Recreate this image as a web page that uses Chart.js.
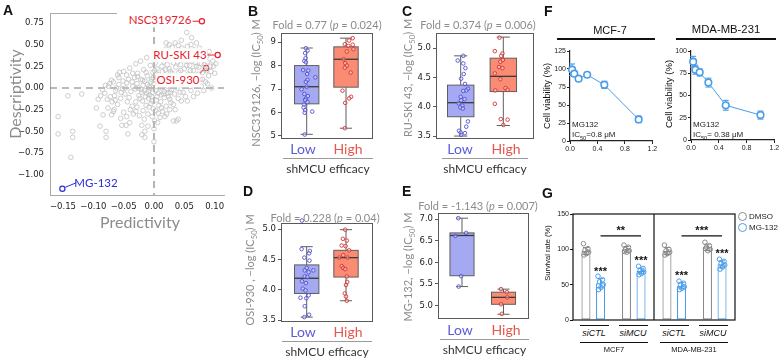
<!DOCTYPE html>
<html>
<head>
<meta charset="utf-8">
<script src="https://cdn.jsdelivr.net/npm/chart.js@4.4.1/dist/chart.umd.min.js"></script>
<style>
  body { margin: 0; background: #fff; }
  #fig { position: relative; width: 783px; height: 358px; overflow: hidden; font-family: Lato, 'Open Sans', sans-serif; }
  .t { position: absolute; white-space: nowrap; line-height: 1; }
  .c { transform: translate(-50%, -50%); }
  .r { transform: translate(-50%, -50%) rotate(-90deg); }
  .ar { font-family: Arial, 'Liberation Sans', sans-serif; }
  .let { font: bold 14px Arial, 'Liberation Sans', sans-serif; color: #111; }
  .gt { color: #8c8c8c; }
  .lab { background: #fff; padding: 1px 1px; }
  .hl { position: absolute; height: 0; }
  sub { font-size: 70%; line-height: 0; }
</style>
</head>
<body>
<div id="fig"></div>
<script>
// ── Panel A: predictivity vs descriptivity ───────────────────────────────────
const A_XTICKS = [-0.15, -0.10, -0.05, 0.00, 0.05, 0.10];
const A_YTICKS = [-1.00, -0.75, -0.50, -0.25, 0.00, 0.25, 0.50, 0.75];
const A_CLOUD = [
  [-0.028,0.05],[-0.021,-0.02],[-0.015,0.08],[-0.012,-0.06],[-0.008,0.02],[-0.004,-0.10],[0.000,0.05],[0.003,-0.03],
  [0.006,0.11],[0.009,0.01],[0.012,-0.08],[0.015,0.07],[0.018,0.15],[0.021,-0.01],[0.024,0.09],[0.027,0.19],
  [0.030,0.04],[0.033,0.13],[0.036,0.24],[0.039,0.08],[-0.025,-0.09],[-0.019,-0.15],[-0.013,-0.20],[-0.009,-0.12],
  [-0.005,-0.18],[-0.001,-0.24],[0.004,-0.14],[0.008,-0.20],[0.011,-0.16],[0.014,-0.27],[0.017,-0.11],[0.020,-0.21],
  [0.023,-0.06],[0.026,-0.13],[0.029,-0.02],[-0.032,0.12],[-0.027,0.17],[-0.022,0.10],[-0.017,0.21],[-0.011,0.14],
  [-0.006,0.26],[-0.002,0.18],[0.002,0.29],[0.005,0.22],[0.010,0.33],[0.013,0.25],[0.016,0.30],[0.019,0.37],
  [0.022,0.27],[0.025,0.34],[-0.038,-0.04],[-0.035,0.02],[-0.041,-0.11],[-0.045,0.06],[-0.048,-0.07],[-0.052,-0.01],
  [-0.044,-0.16],[-0.036,-0.21],[-0.030,-0.27],[-0.024,-0.32],[-0.016,-0.36],[-0.010,-0.30],[-0.003,-0.33],[0.001,-0.38],
  [0.007,-0.29],[0.041,0.18],[0.044,0.27],[0.047,0.12],[0.050,0.22],[0.053,0.31],[0.056,0.16],[0.059,0.26],
  [0.062,0.36],[0.065,0.20],[0.068,0.29],[0.071,0.41],[0.074,0.24],[0.077,0.33],[0.080,0.18],[0.083,0.27],
  [0.087,0.37],[0.090,0.14],[0.093,0.25],[0.032,0.29],[0.035,0.36],[0.038,0.43],[0.028,0.41],[0.042,0.38],
  [0.046,0.46],[0.050,0.40],[0.055,0.48],[0.058,0.43],[0.054,0.64],[0.061,0.50],[0.066,0.44],[0.070,0.52],
  [0.075,0.46],[0.034,-0.07],[0.038,0.00],[0.043,-0.05],[0.047,0.03],[0.052,-0.10],[0.057,0.05],[0.061,-0.03],
  [0.066,0.08],[0.072,-0.06],[0.078,0.02],[0.085,0.07],[0.095,0.00],[0.045,-0.15],[0.032,-0.19],[0.037,-0.38],
  [0.040,-0.36],[-0.058,0.04],[-0.063,-0.03],[-0.067,0.07],[-0.072,-0.10],[-0.075,0.02],[-0.081,-0.06],[-0.055,-0.12],
  [-0.060,-0.19],[-0.066,-0.25],[-0.070,-0.31],[-0.050,-0.28],[-0.045,-0.33],[-0.040,-0.40],[-0.055,-0.35],[-0.035,0.17],
  [-0.040,0.23],[-0.045,0.15],[-0.050,0.19],[-0.030,0.28],[-0.022,0.31],[-0.012,0.35],[-0.058,0.12],[-0.070,0.09],
  [-0.060,0.15],[-0.005,0.07],[-0.018,0.03],[0.007,-0.06],[0.020,0.05],[-0.009,-0.04],[0.013,0.00],[-0.001,0.12],
  [0.017,-0.04],[-0.014,-0.10],[0.004,0.16],[-0.026,0.00],[0.028,0.14],[-0.020,-0.05],[0.010,0.08],[-0.007,0.00],
  [0.024,-0.10],[-0.030,-0.16],[0.019,0.21],[-0.003,-0.15],[0.031,0.09],[-0.010,-0.44],[0.000,-0.47],[-0.015,-0.50],
  [0.006,-0.40],[0.018,-0.33],[-0.020,-0.43],[0.010,-0.34],[0.026,-0.25],[0.080,0.10],[0.086,0.20],[0.097,0.31],
  [0.068,0.12],[0.073,0.16],[0.063,0.12],[0.049,0.08],[0.100,0.17],[-0.142,-0.09],[-0.119,-0.07],[-0.158,-0.33],
  [-0.158,-0.53],[-0.134,-0.50],[-0.134,-0.57],[-0.137,-0.80],[-0.092,-0.13],[-0.095,-0.23],[-0.089,-0.44],[-0.079,-0.50],
  [-0.079,-0.57],[-0.076,-0.23],[-0.084,-0.31],[-0.043,-0.53],[-0.020,-0.54],[-0.015,-0.57],[0.000,-0.62],[-0.053,-0.43],
  [-0.046,-0.43],[-0.067,-0.27],[-0.064,-0.14],[0.032,-0.38],
  [-0.036,0.07],[-0.031,-0.01],[-0.027,0.13],[-0.023,-0.12],[-0.019,0.09],[-0.016,-0.03],[-0.013,0.18],[-0.011,0.04],
  [-0.007,-0.08],[-0.004,0.10],[-0.002,-0.05],[0.001,0.20],[0.003,0.08],[0.005,-0.10],[0.008,0.15],[0.011,0.03],
  [0.014,0.19],[0.016,-0.07],[0.019,0.11],[0.022,0.02],[0.025,0.22],[0.027,-0.05],[0.030,0.17],[0.033,0.03],
  [0.036,0.12],[0.039,0.30],[0.041,0.05],[0.044,0.20],[0.048,0.33],[0.051,0.10],[0.054,0.26],[0.057,0.38],
  [0.060,0.20],[0.063,0.31],[0.067,0.38],[0.070,0.25],[0.074,0.35],[0.078,0.28],[0.081,0.40],[0.084,0.22],
  [0.088,0.30],[0.091,0.42],[0.094,0.19],[0.098,0.25],[0.102,0.28],[-0.042,0.10],[-0.047,0.00],[-0.051,0.08],
  [-0.054,-0.05],[-0.057,0.18],[-0.062,0.00],[-0.065,-0.09],[-0.069,-0.16],[-0.073,0.05],[-0.077,-0.13],[-0.080,0.03],
  [-0.085,-0.02],[-0.088,-0.09],[-0.039,-0.25],[-0.034,-0.30],[-0.028,-0.22],[-0.018,-0.26],[-0.008,-0.22],[0.003,-0.26],
  [0.012,-0.23],[0.021,-0.30],[0.028,-0.17],[0.035,-0.25],[0.040,-0.12],[0.048,-0.05],[0.055,-0.15],[0.060,0.02],
  [0.065,-0.10],[0.070,0.04],[0.076,0.10],[0.082,-0.03],[0.088,0.05],[0.010,0.40],[0.015,0.42],[0.020,0.45],
  [0.025,0.50],[0.030,0.47],[0.035,0.52],[0.040,0.49],[0.045,0.55],[0.062,0.58],[0.020,0.52]
];
const A_HIT_NAMES = ['NSC319726', 'RU-SKI 43', 'OSI-930'];
const A_HIT_X = [0.079, 0.105, 0.086];
const A_HIT_Y = [0.77, 0.38, 0.23];
const A_MISS_NAME = 'MG-132';
const A_MISS = [-0.151, -1.162];

// ── Panels B–E: boxplots [whisker lo, q1, median, q3, whisker hi] ───────────
const BOX_GROUPS = ['Low', 'High'];
const B_LOW  = [5.07, 6.37, 7.10, 8.00, 8.75];
const B_HIGH = [5.33, 7.08, 8.27, 8.80, 9.17];
const B_LOW_PTS = [[-0.02,8.74],[0.02,8.64],[-0.04,8.53],[-0.03,8.31],[-0.06,8.2],[-0.02,8.14],[-0.09,7.81],[0.04,7.79],
  [0.01,7.64],[0.22,7.5],[0.02,7.39],[-0.02,7.31],[0,7.1],[-0.13,6.99],[-0.06,6.79],[0.03,6.7],[-0.02,6.59],[-0.04,6.53],
  [0.02,6.44],[-0.07,6.34],[-0.08,6.21],[-0.04,6.1],[0.14,6.04],[-0.05,5.99],[-0.05,5.06]];
const B_HIGH_PTS = [[0.17,9.17],[0.08,9.07],[-0.03,8.91],[0.17,8.89],[0.06,8.84],[0.19,8.7],[0.02,8.6],[-0.06,8.27],
  [-0.02,8.1],[0.02,8.0],[-0.03,7.91],[0.12,7.7],[-0.09,6.93],[0.13,6.67],[0.08,6.6],[-0.02,6.41],[-0.03,5.33]];
const B_YTICKS = [5, 6, 7, 8, 9];

const C_LOW  = [3.50, 3.83, 4.07, 4.37, 4.87];
const C_HIGH = [3.68, 4.26, 4.52, 4.83, 5.19];
const C_LOW_PTS = [[0.06,4.87],[-0.07,4.79],[0.06,4.74],[0.11,4.66],[0.07,4.56],[0.01,4.48],[0.1,4.39],[0.17,4.31],
  [0.13,4.28],[0.06,4.27],[0,4.17],[0.09,4.13],[0.01,4.11],[-0.05,4.06],[0.04,4.02],[-0.01,3.99],[0.05,3.97],[0.17,3.75],
  [0.13,3.66],[-0.04,3.59],[0,3.56],[0.1,3.55],[0.01,3.52]];
const C_HIGH_PTS = [[-0.09,5.18],[-0.2,4.95],[-0.02,4.91],[-0.05,4.87],[-0.01,4.8],[-0.07,4.77],[-0.1,4.68],[-0.02,4.66],
  [-0.2,4.57],[-0.07,4.47],[0.05,4.32],[0.1,4.29],[-0.19,4.28],[-0.2,4.05],[-0.06,3.79],[0.1,3.78],[0,3.69]];
const C_YTICKS = [3.5, 4.0, 4.5, 5.0];

const D_LOW  = [3.55, 3.94, 4.19, 4.41, 4.71];
const D_HIGH = [3.82, 4.21, 4.53, 4.65, 4.99];
const D_LOW_PTS = [[-0.12,5.14],[-0.13,4.67],[0.08,4.64],[0.06,4.6],[-0.06,4.53],[0.07,4.48],[0,4.36],[-0.05,4.32],
  [0.17,4.32],[0.05,4.29],[-0.05,4.22],[0.02,4.21],[-0.12,4.14],[-0.02,4.11],[-0.1,4.02],[-0.03,3.99],[-0.16,3.87],
  [0.05,3.91],[-0.01,3.86],[-0.05,3.73],[0.06,3.59],[-0.06,3.55]];
const D_HIGH_PTS = [[-0.02,4.99],[-0.08,4.84],[0.02,4.81],[-0.11,4.73],[-0.01,4.72],[0.08,4.65],[-0.07,4.57],[-0.17,4.53],
  [0.04,4.53],[-0.11,4.39],[-0.07,4.36],[-0.02,4.34],[0.02,4.22],[0.03,4.13],[0,4.08],[-0.03,3.94],[0,3.89],[0.02,3.82]];
const D_YTICKS = [3.5, 4.0, 4.5, 5.0];

const E_LOW  = [5.44, 5.69, 6.62, 6.68, 7.02];
const E_HIGH = [4.80, 5.03, 5.19, 5.31, 5.38];
const E_LOW_PTS = [[-0.09,7.02],[0.1,6.68],[-0.16,6.61],[-0.02,5.68],[-0.08,5.44]];
const E_HIGH_PTS = [[-0.06,5.38],[0.08,5.31],[0.09,5.19],[-0.06,5.03],[-0.04,4.81]];
const E_YTICKS = [5.0, 5.5, 6.0, 6.5, 7.0];

// ── Panel F: MG132 dose response ─────────────────────────────────────────────
const F_CONC = [0.03125, 0.0625, 0.125, 0.25, 0.5, 1.0];
const F_MCF = [99, 93.5, 86.5, 92, 78, 30];
const F_MCF_ERR = [8, 3, 2.5, 2.5, 5, 4.5];
const F_MDA = [88, 79, 76, 64.5, 39, 28];
const F_MDA_ERR = [6, 5, 4, 5, 5.5, 4.5];
const F_XTICKS = [0, 0.4, 0.8, 1.2];

// ── Panel G: survival rate ───────────────────────────────────────────────────
const G_GROUPS = ['siCTL', 'siMCU', 'siCTL', 'siMCU'];
const G_DMSO = [97.6, 100, 97.6, 102.8];
const G_MG = [52, 69.3, 48.6, 78.8];
const G_DMSO_SD = [5, 4, 5, 4.5];
const G_MG_SD = [6.5, 4, 4.5, 5];
const G_DMSO_REPS = [[108,101,99,96,94,92],[106,103,100,98,96,97],[106,100,98,96,94,92],[110,105,103,100,98,101]];
const G_MG_REPS = [[62,57,54,50,46,43],[76,73,70,68,66,64],[55,52,50,47,45,43],[86,83,80,78,75,72]];
const G_STARS = ['***', '***', '***', '***'];
const G_BRACKETS = [[0, 1], [2, 3]];
const G_BRACKET_Y = [119, 119];
const G_BRACKET_TXT = ['**', '***'];
const G_YTICKS = [0, 50, 100, 150];

// ── helpers ──────────────────────────────────────────────────────────────────
const fig = document.getElementById('fig');
const BLUE = '#4a9de8';

function mount(box) {
  const c = document.createElement('canvas');
  c.width = box.w; c.height = box.h;
  c.style.cssText = `position:absolute;left:${box.x}px;top:${box.y}px;width:${box.w}px;height:${box.h}px`;
  fig.appendChild(c);
  return c;
}
function fit(box, area) {
  return {
    padding: { left: 0, top: area.t - box.y, right: box.x + box.w - area.r, bottom: 0 },
    yw: area.l - box.x,
    xh: box.y + box.h - area.b,
  };
}
const sizeAxis = (prop, v) => ax => {
  ax[prop] = v;
  ax.paddingLeft = ax.paddingRight = ax.paddingTop = ax.paddingBottom = 0;
};
const setTicks = vals => ax => { ax.ticks = vals.map(v => ({ value: v })); };
function text(html, x, y, cls, style = '') {
  const d = document.createElement('div');
  d.className = 't ' + cls;
  d.style.cssText = `left:${x}px;top:${y}px;${style}`;
  d.innerHTML = html;
  fig.appendChild(d);
}
function hline(x1, x2, y, color = '#888', w = 1) {
  const d = document.createElement('div');
  d.className = 'hl';
  d.style.cssText = `left:${x1}px;top:${y}px;width:${x2 - x1}px;border-top:${w}px solid ${color}`;
  fig.appendChild(d);
}
function seg(ctx, x1, y1, x2, y2) { ctx.beginPath(); ctx.moveTo(x1, y1); ctx.lineTo(x2, y2); ctx.stroke(); }
const fmtMinus = (v, d) => (v < 0 ? '\u2212' : '') + Math.abs(v).toFixed(d);

// ── A ────────────────────────────────────────────────────────────────────────
(() => {
  const box = { x: 0, y: 0, w: 240, h: 216 };
  const f = fit(box, { l: 50, t: 13, r: 224, b: 195 });
  const aPlugin = {
    id: 'aDeco',
    beforeDatasetsDraw(chart) {
      const { ctx, chartArea: a, scales: { x, y } } = chart;
      ctx.save();
      ctx.strokeStyle = '#777'; ctx.lineWidth = 1.1; ctx.setLineDash([7, 5]);
      seg(ctx, x.getPixelForValue(0), a.top, x.getPixelForValue(0), a.bottom);
      seg(ctx, a.left, y.getPixelForValue(0), a.right, y.getPixelForValue(0));
      ctx.setLineDash([]);
      ctx.strokeStyle = '#aaa'; ctx.lineWidth = 1;
      seg(ctx, a.left, a.top + 0.5, x.getPixelForValue(-0.061), a.top + 0.5);
      ctx.restore();
    },
    afterDatasetsDraw(chart) {
      const { ctx, scales: { x, y } } = chart;
      ctx.save();
      // connectors from labels to highlighted compounds
      const offs = [[-14, 0], [-16, 0], [-10, 10]];
      ctx.strokeStyle = '#e8202a'; ctx.lineWidth = 1;
      A_HIT_X.forEach((v, i) => {
        const px = x.getPixelForValue(v), py = y.getPixelForValue(A_HIT_Y[i]);
        seg(ctx, px - 3, py + (offs[i][1] ? 2 : 0), px + offs[i][0], py + offs[i][1]);
      });
      ctx.strokeStyle = '#2b2bdc';
      const mx = x.getPixelForValue(A_MISS[0]), my = y.getPixelForValue(A_MISS[1]);
      seg(ctx, mx + 3, my - 1.5, mx + 14, my - 6);
      ctx.restore();
    },
  };
  new Chart(mount(box), {
    type: 'scatter',
    data: {
      datasets: [
        { data: A_CLOUD.map(([x, y]) => ({ x, y })), pointRadius: 2.3, borderWidth: 0.8,
          borderColor: '#c0c0c0', backgroundColor: 'rgba(255,255,255,0)' },
        { data: A_HIT_X.map((x, i) => ({ x, y: A_HIT_Y[i] })), pointRadius: 2.6, borderWidth: 1.2,
          borderColor: '#e8202a', backgroundColor: '#fff' },
        { data: [{ x: A_MISS[0], y: A_MISS[1] }], pointRadius: 2.6, borderWidth: 1.2,
          borderColor: '#2b2bdc', backgroundColor: '#fff' },
      ],
    },
    options: {
      responsive: false, animation: false, devicePixelRatio: 1,
      layout: { padding: f.padding },
      plugins: { legend: { display: false }, tooltip: { enabled: false } },
      scales: {
        x: { min: -0.1714, max: 0.1154, afterBuildTicks: setTicks(A_XTICKS), afterFit: sizeAxis('height', f.xh),
             grid: { display: false, drawTicks: false }, border: { color: '#aaa' },
             ticks: { padding: 7, color: '#222', font: { family: 'DejaVu Sans', size: 8.5 }, callback: v => fmtMinus(v, 2) } },
        y: { min: -1.2346, max: 0.865, afterBuildTicks: setTicks(A_YTICKS), afterFit: sizeAxis('width', f.yw),
             grid: { display: false, drawTicks: false }, border: { color: '#aaa' },
             ticks: { padding: 6, color: '#222', font: { family: 'DejaVu Sans', size: 8.5 }, callback: v => fmtMinus(v, 2) } },
      },
    },
    plugins: [aPlugin],
  });
  text('Descriptivity', 15, 94, 'r gt', 'font-size:16px');
  text('Predictivity', 140, 222, 'c gt', 'font-size:16px');
  text(A_HIT_NAMES[0], 160, 20, 'c lab', 'color:#e8202a;font-size:11.5px');
  text(A_HIT_NAMES[1], 180, 55, 'c lab', 'color:#e8202a;font-size:11.5px');
  text(A_HIT_NAMES[2], 178, 80, 'c lab', 'color:#e8202a;font-size:11.5px');
  text(A_MISS_NAME, 96, 183, 'c', 'color:#2b2bdc;font-size:11.5px');
  text('A', 3, 1.5, 'let');
})();

// ── B–E ─────────────────────────────────────────────────────────────────────
function boxPanel(box, area, xr, yr, yticks, dec, low, high, lowPts, highPts, half) {
  const f = fit(box, area);
  const stats = [low, high];
  const fills = ['#a4a9f2', '#fa8c74'];
  const boxPlugin = {
    id: 'boxes',
    beforeDatasetsDraw(chart) {
      const { ctx, scales: { x, y } } = chart;
      ctx.save();
      stats.forEach((s, i) => {
        const [lo, q1, md, q3, hi] = s.map(v => y.getPixelForValue(v));
        const xl = x.getPixelForValue(i - half), xr2 = x.getPixelForValue(i + half), xc = x.getPixelForValue(i);
        const cl = x.getPixelForValue(i - half / 2), cr = x.getPixelForValue(i + half / 2);
        ctx.strokeStyle = '#5f5f5f'; ctx.lineWidth = 1;
        seg(ctx, xc, hi, xc, q3); seg(ctx, xc, q1, xc, lo);
        seg(ctx, cl, hi, cr, hi); seg(ctx, cl, lo, cr, lo);
        ctx.fillStyle = fills[i];
        ctx.fillRect(xl, q3, xr2 - xl, q1 - q3);
        ctx.strokeRect(xl, q3, xr2 - xl, q1 - q3);
        ctx.strokeStyle = '#3a3a3a'; ctx.lineWidth = 1.3;
        seg(ctx, xl, md, xr2, md);
      });
      ctx.restore();
    },
    afterDatasetsDraw(chart) {
      const { ctx, chartArea: a } = chart;
      ctx.save();
      ctx.strokeStyle = '#5a5a5a'; ctx.lineWidth = 1;
      ctx.strokeRect(a.left + 0.5, a.top + 0.5, a.right - a.left - 1, a.bottom - a.top - 1);
      ctx.restore();
    },
  };
  new Chart(mount(box), {
    type: 'scatter',
    data: {
      datasets: [
        { label: BOX_GROUPS[0], data: lowPts.map(([j, v]) => ({ x: 0 + j, y: v })), pointRadius: 1.8, borderWidth: 0.9,
          borderColor: '#5050d0', backgroundColor: 'rgba(255,255,255,0.35)', clip: false },
        { label: BOX_GROUPS[1], data: highPts.map(([j, v]) => ({ x: 1 + j, y: v })), pointRadius: 1.8, borderWidth: 0.9,
          borderColor: '#d63333', backgroundColor: 'rgba(255,255,255,0.35)', clip: false },
      ],
    },
    options: {
      responsive: false, animation: false, devicePixelRatio: 1,
      layout: { padding: f.padding },
      plugins: { legend: { display: false }, tooltip: { enabled: false } },
      scales: {
        x: { min: xr[0], max: xr[1], afterFit: sizeAxis('height', f.xh),
             grid: { display: false, drawTicks: false }, border: { display: false }, ticks: { display: false } },
        y: { min: yr[0], max: yr[1], afterBuildTicks: setTicks(yticks), afterFit: sizeAxis('width', f.yw),
             grid: { drawOnChartArea: false, tickLength: 3, color: '#5a5a5a' }, border: { display: false },
             ticks: { padding: 2, color: '#222', font: { family: 'DejaVu Sans', size: 8.5 }, callback: v => v.toFixed(dec) } },
      },
    },
    plugins: [boxPlugin],
  });
}

boxPanel({ x: 250, y: 0, w: 128, h: 150 }, { l: 281, t: 33, r: 373, b: 139 }, [-0.654, 1.687], [4.87, 9.39],
  B_YTICKS, 0, B_LOW, B_HIGH, B_LOW_PTS, B_HIGH_PTS, 0.31);
boxPanel({ x: 405, y: 0, w: 135, h: 150 }, { l: 436, t: 33, r: 534, b: 139 }, [-0.58, 1.72], [3.45, 5.26],
  C_YTICKS, 1, C_LOW, C_HIGH, C_LOW_PTS, C_HIGH_PTS, 0.31);
boxPanel({ x: 250, y: 200, w: 128, h: 130 }, { l: 281, t: 223, r: 373, b: 322 }, [-0.654, 1.687], [3.47, 5.10],
  D_YTICKS, 1, D_LOW, D_HIGH, D_LOW_PTS, D_HIGH_PTS, 0.31);
boxPanel({ x: 408, y: 200, w: 128, h: 130 }, { l: 438, t: 213, r: 529, b: 319 }, [-0.578, 1.614], [4.69, 7.14],
  E_YTICKS, 1, E_LOW, E_HIGH, E_LOW_PTS, E_HIGH_PTS, 0.29);

function boxTexts(cx, top, ycx, ycy, ytitle, fold, lowX, highX, lblY, lineX1, lineX2) {
  text(fold, cx, top, 'c gt', 'font-size:11px');
  text(ytitle, ycx, ycy, 'r gt', 'font-size:11px');
  text(BOX_GROUPS[0], lowX, lblY, 'c', 'color:#5b5bd9;font-size:14px');
  text(BOX_GROUPS[1], highX, lblY, 'c', 'color:#e8554d;font-size:14px');
  hline(lineX1, lineX2, lblY + 9, '#9a9a9a', 1);
  text('shMCU efficacy', (lineX1 + lineX2) / 2, lblY + 20, 'c', 'color:#333;font-size:12px');
}
boxTexts(327, 24, 255, 83, 'NSC319126, \u2212log (IC<sub>50</sub>) M', 'Fold = 0.77 (<i>p</i> = 0.024)', 303, 348, 149, 283, 373);
boxTexts(478, 24, 407, 78, 'RU-SKI 43, \u2212log (IC<sub>50</sub>) M', 'Fold = 0.374 (<i>p</i> = 0.006)', 460, 506, 149, 442, 528);
boxTexts(325, 216.5, 249, 270, 'OSI-930 , \u2212log (IC<sub>50</sub>) M', 'Fold = 0.228 (<i>p</i> = 0.04)', 303, 348, 331.5, 282, 372);
boxTexts(478, 204.5, 407, 267, 'MG-132, \u2212log (IC<sub>50</sub>) M', 'Fold = -1.143 (<i>p</i> = 0.007)', 460, 506, 330, 440, 529);
text('B', 248, 3.2, 'let'); text('C', 402, 3.2, 'let');
text('D', 243, 183.2, 'let'); text('E', 402, 183.2, 'let');

// ── F ────────────────────────────────────────────────────────────────────────
function dosePanel(box, area, vals, errs, ymax) {
  const f = fit(box, area);
  const errPlugin = {
    id: 'errbars',
    beforeDatasetsDraw(chart) {
      const { ctx, scales: { x, y } } = chart;
      ctx.save();
      ctx.strokeStyle = BLUE; ctx.lineWidth = 1.1;
      F_CONC.forEach((c, i) => {
        const px = x.getPixelForValue(c);
        const top = y.getPixelForValue(vals[i] + errs[i]), bot = y.getPixelForValue(vals[i] - errs[i]);
        seg(ctx, px, top, px, bot); seg(ctx, px - 3, top, px + 3, top); seg(ctx, px - 3, bot, px + 3, bot);
      });
      ctx.restore();
    },
  };
  const axisBase = {
    grid: { drawOnChartArea: false, tickLength: 3, color: '#222', lineWidth: 1 },
    border: { color: '#222', width: 1.2 },
  };
  new Chart(mount(box), {
    type: 'scatter',
    data: {
      datasets: [{ data: F_CONC.map((c, i) => ({ x: c, y: vals[i] })), showLine: true, borderColor: BLUE,
        borderWidth: 1, pointRadius: 3.3, pointBorderWidth: 1.6, pointBorderColor: BLUE,
        pointBackgroundColor: '#fff', clip: false }],
    },
    options: {
      responsive: false, animation: false, devicePixelRatio: 1,
      layout: { padding: f.padding },
      plugins: { legend: { display: false }, tooltip: { enabled: false } },
      scales: {
        x: { ...axisBase, min: 0, max: 1.2, afterBuildTicks: setTicks(F_XTICKS), afterFit: sizeAxis('height', f.xh),
             ticks: { padding: 1, color: '#222', font: { family: 'Arial', size: 7 }, callback: v => v.toFixed(1) } },
        y: { ...axisBase, min: 0, max: ymax, afterFit: sizeAxis('width', f.yw),
             ticks: { stepSize: 25, padding: 1, color: '#222', font: { family: 'Arial', size: 7 } } },
      },
    },
    plugins: [errPlugin],
  });
}
dosePanel({ x: 552, y: 44, w: 106, h: 110 }, { l: 570, t: 51, r: 654, b: 141 }, F_MCF, F_MCF_ERR, 125);
dosePanel({ x: 672, y: 44, w: 108, h: 110 }, { l: 691, t: 51, r: 776, b: 140 }, F_MDA, F_MDA_ERR, 100);
text('MCF-7', 610, 30, 'c ar', 'font-size:11px;color:#111');
text('MDA-MB-231', 726, 30, 'c ar', 'font-size:11.3px;color:#111');
hline(557, 655, 38, '#111', 2);
hline(676, 776, 38, '#111', 2);
text('Cell viability (%)', 548, 96, 'r ar', 'font-size:9.3px;color:#111');
text('Cell viability (%)', 669, 94, 'r ar', 'font-size:9.6px;color:#111');
text('MG132', 572, 121, 'ar', 'font-size:8px;color:#222');
text('IC<sub>50</sub>=0.8 \u03bcM', 572, 131, 'ar', 'font-size:8px;color:#222');
text('MG132', 693, 121, 'ar', 'font-size:8px;color:#222');
text('IC<sub>50</sub>= 0.38 \u03bcM', 693, 131, 'ar', 'font-size:8px;color:#222');
text('F', 544, 3.2, 'let');

// ── G ────────────────────────────────────────────────────────────────────────
(() => {
  const box = { x: 552, y: 205, w: 190, h: 118 };
  const area = { l: 573, t: 214, r: 735, b: 320 };
  const f = fit(box, area);
  const JIT = [-0.28, 0.22, -0.1, 0.3, 0.05, -0.22];
  const gPlugin = {
    id: 'gDeco',
    afterDatasetsDraw(chart) {
      const { ctx, chartArea: a, scales: { x, y } } = chart;
      ctx.save();
      [[G_DMSO, G_DMSO_SD, G_DMSO_REPS, '#8a8a8a'], [G_MG, G_MG_SD, G_MG_REPS, BLUE]].forEach(([m, sd, reps, col], di) => {
        const meta = chart.getDatasetMeta(di);
        meta.data.forEach((bar, i) => {
          const bx = bar.x, w = bar.width;
          ctx.strokeStyle = col; ctx.lineWidth = 1;
          const top = y.getPixelForValue(m[i] + sd[i]), bot = y.getPixelForValue(m[i] - sd[i]);
          seg(ctx, bx, top, bx, bot); seg(ctx, bx - 3, top, bx + 3, top); seg(ctx, bx - 3, bot, bx + 3, bot);
          reps[i].forEach((v, k) => {
            ctx.beginPath(); ctx.arc(bx + JIT[k] * w, y.getPixelForValue(v), 2.3, 0, Math.PI * 2); ctx.stroke();
          });
          if (di === 1) {
            ctx.fillStyle = '#111'; ctx.font = 'bold 11px Arial'; ctx.textAlign = 'center'; ctx.textBaseline = 'middle';
            ctx.fillText(G_STARS[i], bx, top - 7);
          }
        });
      });
      // brackets between MG-132 bars
      const mg = chart.getDatasetMeta(1).data;
      ctx.strokeStyle = '#111'; ctx.lineWidth = 1.1; ctx.fillStyle = '#111';
      G_BRACKETS.forEach(([p, q], k) => {
        const by = y.getPixelForValue(G_BRACKET_Y[k]);
        seg(ctx, mg[p].x, by, mg[q].x, by);
        ctx.fillText(G_BRACKET_TXT[k], (mg[p].x + mg[q].x) / 2, by - 5);
      });
      // frame + divider
      ctx.strokeStyle = '#111'; ctx.lineWidth = 1.2;
      ctx.strokeRect(a.left, a.top, a.right - a.left, a.bottom - a.top);
      const mid = (x.getPixelForValue(1) + x.getPixelForValue(2)) / 2;
      seg(ctx, mid, a.top, mid, a.bottom);
      ctx.restore();
    },
  };
  new Chart(mount(box), {
    type: 'bar',
    data: {
      labels: G_GROUPS,
      datasets: [
        { label: 'DMSO', data: G_DMSO, backgroundColor: '#fff', borderColor: '#8a8a8a', borderWidth: 1.2, borderSkipped: false },
        { label: 'MG-132', data: G_MG, backgroundColor: '#fff', borderColor: BLUE, borderWidth: 1.2, borderSkipped: false },
      ],
    },
    options: {
      responsive: false, animation: false, devicePixelRatio: 1,
      layout: { padding: f.padding },
      categoryPercentage: 0.72, barPercentage: 0.62,
      plugins: { legend: { display: false }, tooltip: { enabled: false } },
      scales: {
        x: { afterFit: sizeAxis('height', f.xh), grid: { display: false, drawTicks: false }, border: { display: false },
             ticks: { display: false } },
        y: { min: 0, max: 150, afterBuildTicks: setTicks(G_YTICKS), afterFit: sizeAxis('width', f.yw),
             grid: { drawOnChartArea: false, tickLength: 3, color: '#111' }, border: { display: false },
             ticks: { padding: 1, color: '#222', font: { family: 'Arial', size: 7 } } },
      },
    },
    plugins: [gPlugin],
  });
  // legend
  const dot = c => `<span style="display:inline-block;width:7px;height:7px;border:1.2px solid ${c};border-radius:50%;vertical-align:middle;margin-right:2px"></span>`;
  text(dot('#8a8a8a') + 'DMSO', 738, 212, 'ar', 'font-size:8px;color:#222');
  text(dot(BLUE) + 'MG-132', 738, 223, 'ar', 'font-size:8px;color:#222');
  // group labels
  const gx = [594, 633, 674, 713];
  G_GROUPS.forEach((g, i) => {
    hline(gx[i] - 14.5, gx[i] + 14.5, 324.5, '#111', 1);
    text('<i>' + g + '</i>', gx[i], 332.5, 'c ar', 'font-size:9px;color:#111');
  });
  hline(580, 648, 341.5, '#111', 1);
  hline(660, 728, 341.5, '#111', 1);
  text('MCF7', 614, 349.5, 'c ar', 'font-size:7.5px;color:#111');
  text('MDA-MB-231', 694, 349.5, 'c ar', 'font-size:7.5px;color:#111');
  text('Survival rate (%)', 548, 253, 'r ar', 'font-size:7.5px;color:#111');
  text('G', 542, 185.2, 'let');
})();
</script>
</body>
</html>
